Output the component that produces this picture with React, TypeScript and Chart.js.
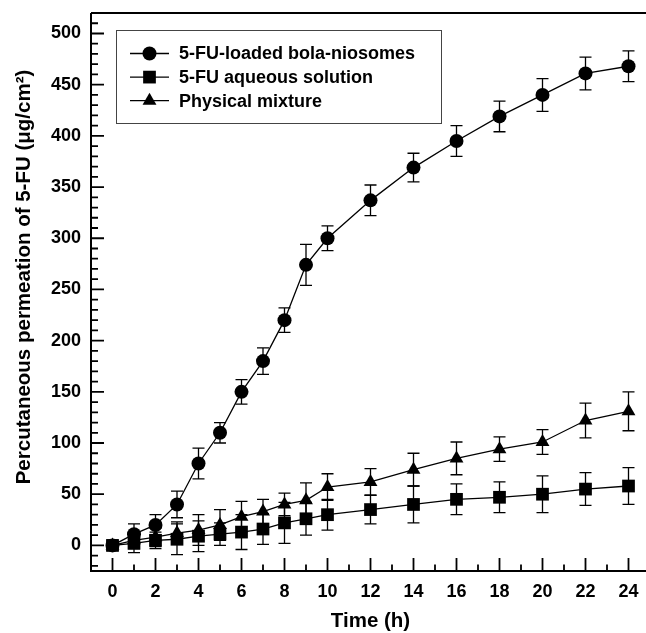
import React, { useEffect, useRef } from 'react';
import { Chart, registerables } from 'chart.js';

Chart.register(...registerables);

const hours = [0, 1, 2, 3, 4, 5, 6, 7, 8, 9, 10, 12, 14, 16, 18, 20, 22, 24];
const niosomes = [0, 11, 20, 40, 80, 110, 150, 180, 220, 274, 300, 337, 369, 395, 419, 440, 461, 468];
const niosomesErr = [5, 10, 10, 13, 15, 10, 12, 13, 12, 20, 12, 15, 14, 15, 15, 16, 16, 15];
const aqueous = [0, 2, 5, 6, 9, 11, 13, 16, 22, 26, 30, 35, 40, 45, 47, 50, 55, 58];
const aqueousErr = [4, 9, 8, 15, 15, 11, 17, 15, 20, 16, 15, 14, 18, 15, 15, 18, 16, 18];
const mixture = [0, 5, 8, 12, 15, 20, 28, 33, 40, 44, 57, 62, 74, 85, 94, 101, 122, 131];
const mixtureErr = [3, 8, 9, 11, 15, 15, 15, 12, 11, 17, 13, 13, 16, 16, 12, 12, 17, 19];

const xTickValues = [0, 2, 4, 6, 8, 10, 12, 14, 16, 18, 20, 22, 24];
const yTickValues = [0, 50, 100, 150, 200, 250, 300, 350, 400, 450, 500];

const seriesLabels = ['5-FU-loaded bola-niosomes', '5-FU aqueous solution', 'Physical mixture'];
const xTitle = 'Time (h)';
const yTitle = 'Percutaneous permeation of 5-FU (\u03bcg/cm\u00b2)';

const FONT = '"Liberation Sans", Arial, Helvetica, sans-serif';
const errors = [niosomesErr, aqueousErr, mixtureErr];
const styles = ['circle', 'rect', 'triangle'];
const radii = [7, 9, 8];

function drawMarker(ctx: CanvasRenderingContext2D, style: string, x: number, y: number, r: number) {
  ctx.beginPath();
  if (style === 'circle') {
    ctx.arc(x, y, r, 0, Math.PI * 2);
  } else if (style === 'rect') {
    const s = Math.SQRT1_2 * r;
    ctx.rect(x - s, y - s, 2 * s, 2 * s);
  } else {
    const w = r * Math.sqrt(3) / 2;
    ctx.moveTo(x, y - r);
    ctx.lineTo(x + w, y + r / 2);
    ctx.lineTo(x - w, y + r / 2);
    ctx.closePath();
  }
  ctx.fillStyle = '#000';
  ctx.fill();
}

const errorBarPlugin = {
  id: 'errorBars',
  beforeDatasetsDraw(chart: any) {
    const ctx = chart.ctx;
    const ys = chart.scales.y;
    ctx.save();
    ctx.strokeStyle = '#000';
    ctx.lineWidth = 1.3;
    chart.data.datasets.forEach((ds: any, di: number) => {
      const meta = chart.getDatasetMeta(di);
      meta.data.forEach((pt: any, i: number) => {
        const v = ds.data[i].y;
        const e = errors[di][i];
        const yt = ys.getPixelForValue(v + e);
        const yb = ys.getPixelForValue(v - e);
        const x = pt.x;
        ctx.beginPath();
        ctx.moveTo(x, yt);
        ctx.lineTo(x, yb);
        ctx.moveTo(x - 6, yt);
        ctx.lineTo(x + 6, yt);
        ctx.moveTo(x - 6, yb);
        ctx.lineTo(x + 6, yb);
        ctx.stroke();
      });
    });
    ctx.restore();
  },
};

const framePlugin = {
  id: 'frame',
  afterDraw(chart: any) {
    const ctx = chart.ctx;
    const { left, right, top, bottom } = chart.chartArea;
    const xs = chart.scales.x;
    const ys = chart.scales.y;
    ctx.save();
    ctx.strokeStyle = '#000';
    ctx.lineWidth = 2;
    ctx.beginPath();
    ctx.moveTo(left, top);
    ctx.lineTo(right, top);
    ctx.moveTo(left, top);
    ctx.lineTo(left, bottom);
    ctx.moveTo(left - 1, bottom);
    ctx.lineTo(right, bottom);
    ctx.stroke();
    ctx.lineWidth = 1.8;
    ctx.beginPath();
    for (let v = -20; v <= 510; v += 10) {
      const y = ys.getPixelForValue(v);
      const len = v % 50 === 0 ? 13 : 7;
      ctx.moveTo(left, y);
      ctx.lineTo(left + len, y);
    }
    for (let t = 0; t <= 24; t += 1) {
      const x = xs.getPixelForValue(t);
      const len = t % 2 === 0 ? 13 : 6.5;
      ctx.moveTo(x, bottom);
      ctx.lineTo(x, bottom - len);
    }
    ctx.stroke();

    // legend
    const lx = 116, ly = 30, lw = 325, lh = 93;
    ctx.lineWidth = 1;
    ctx.strokeStyle = '#444';
    ctx.strokeRect(lx + 0.5, ly + 0.5, lw, lh);
    ctx.strokeStyle = '#000';
    ctx.lineWidth = 1.3;
    ctx.font = `bold 18px ${FONT}`;
    ctx.textAlign = 'left';
    ctx.textBaseline = 'middle';
    chart.data.datasets.forEach((ds: any, i: number) => {
      const y = 53.5 + i * 23.6;
      ctx.beginPath();
      ctx.moveTo(130, y);
      ctx.lineTo(169, y);
      ctx.stroke();
      drawMarker(ctx, styles[i], 149.5, y, radii[i]);
      ctx.fillStyle = '#000';
      ctx.fillText(ds.label, 179, y + 1);
    });

    // axis titles
    ctx.fillStyle = '#000';
    ctx.font = `bold 20.5px ${FONT}`;
    ctx.textAlign = 'center';
    ctx.textBaseline = 'middle';
    ctx.fillText(xTitle, xs.getPixelForValue(12), 621);
    ctx.save();
    ctx.translate(24, 277);
    ctx.rotate(-Math.PI / 2);
    ctx.fillText(yTitle, 0, 0);
    ctx.restore();
    ctx.restore();
  },
};

export default function App() {
  const ref = useRef<HTMLCanvasElement | null>(null);
  useEffect(() => {
    if (!ref.current) return;
    const series = [niosomes, aqueous, mixture];
    const chart = new Chart(ref.current, {
      type: 'line',
      data: {
        datasets: series.map((vals, i) => ({
          label: seriesLabels[i],
          data: hours.map((h, j) => ({ x: h, y: vals[j] })),
          borderColor: '#000',
          backgroundColor: '#000',
          borderWidth: 1.3,
          pointStyle: styles[i] as any,
          pointRadius: radii[i],
          pointBorderWidth: 0,
          pointBackgroundColor: '#000',
          tension: 0,
          fill: false,
        })),
      },
      options: {
        animation: false,
        responsive: false,
        layout: { padding: { top: 13, right: 10, left: 0, bottom: 0 } },
        plugins: { legend: { display: false }, tooltip: { enabled: false } },
        scales: {
          x: {
            type: 'linear',
            min: -1,
            max: 25,
            grid: { display: false, drawTicks: false },
            border: { display: false },
            afterBuildTicks: (s: any) => { s.ticks = xTickValues.map((v) => ({ value: v })); },
            ticks: {
              autoSkip: false,
              maxRotation: 0,
              padding: 10,
              color: '#000',
              font: { family: FONT, size: 18, weight: 'bold' },
            },
            afterFit: (s: any) => { s.height = 62; s.paddingRight = 0; s.paddingLeft = 0; },
          },
          y: {
            type: 'linear',
            min: -25,
            max: 520,
            grid: { display: false, drawTicks: false },
            border: { display: false },
            afterBuildTicks: (s: any) => { s.ticks = yTickValues.map((v) => ({ value: v })); },
            ticks: {
              padding: 10,
              color: '#000',
              font: { family: FONT, size: 18, weight: 'bold' },
            },
            afterFit: (s: any) => { s.width = 91; s.paddingTop = 0; s.paddingBottom = 0; },
          },
        },
      },
      plugins: [errorBarPlugin, framePlugin],
    } as any);
    return () => chart.destroy();
  }, []);
  return (
    <div style={{ position: 'absolute', left: 0, top: 0, width: 646, height: 633, overflow: 'hidden', background: '#fff' }}>
      <canvas ref={ref} width={660} height={633} style={{ display: 'block' }} />
    </div>
  );
}
